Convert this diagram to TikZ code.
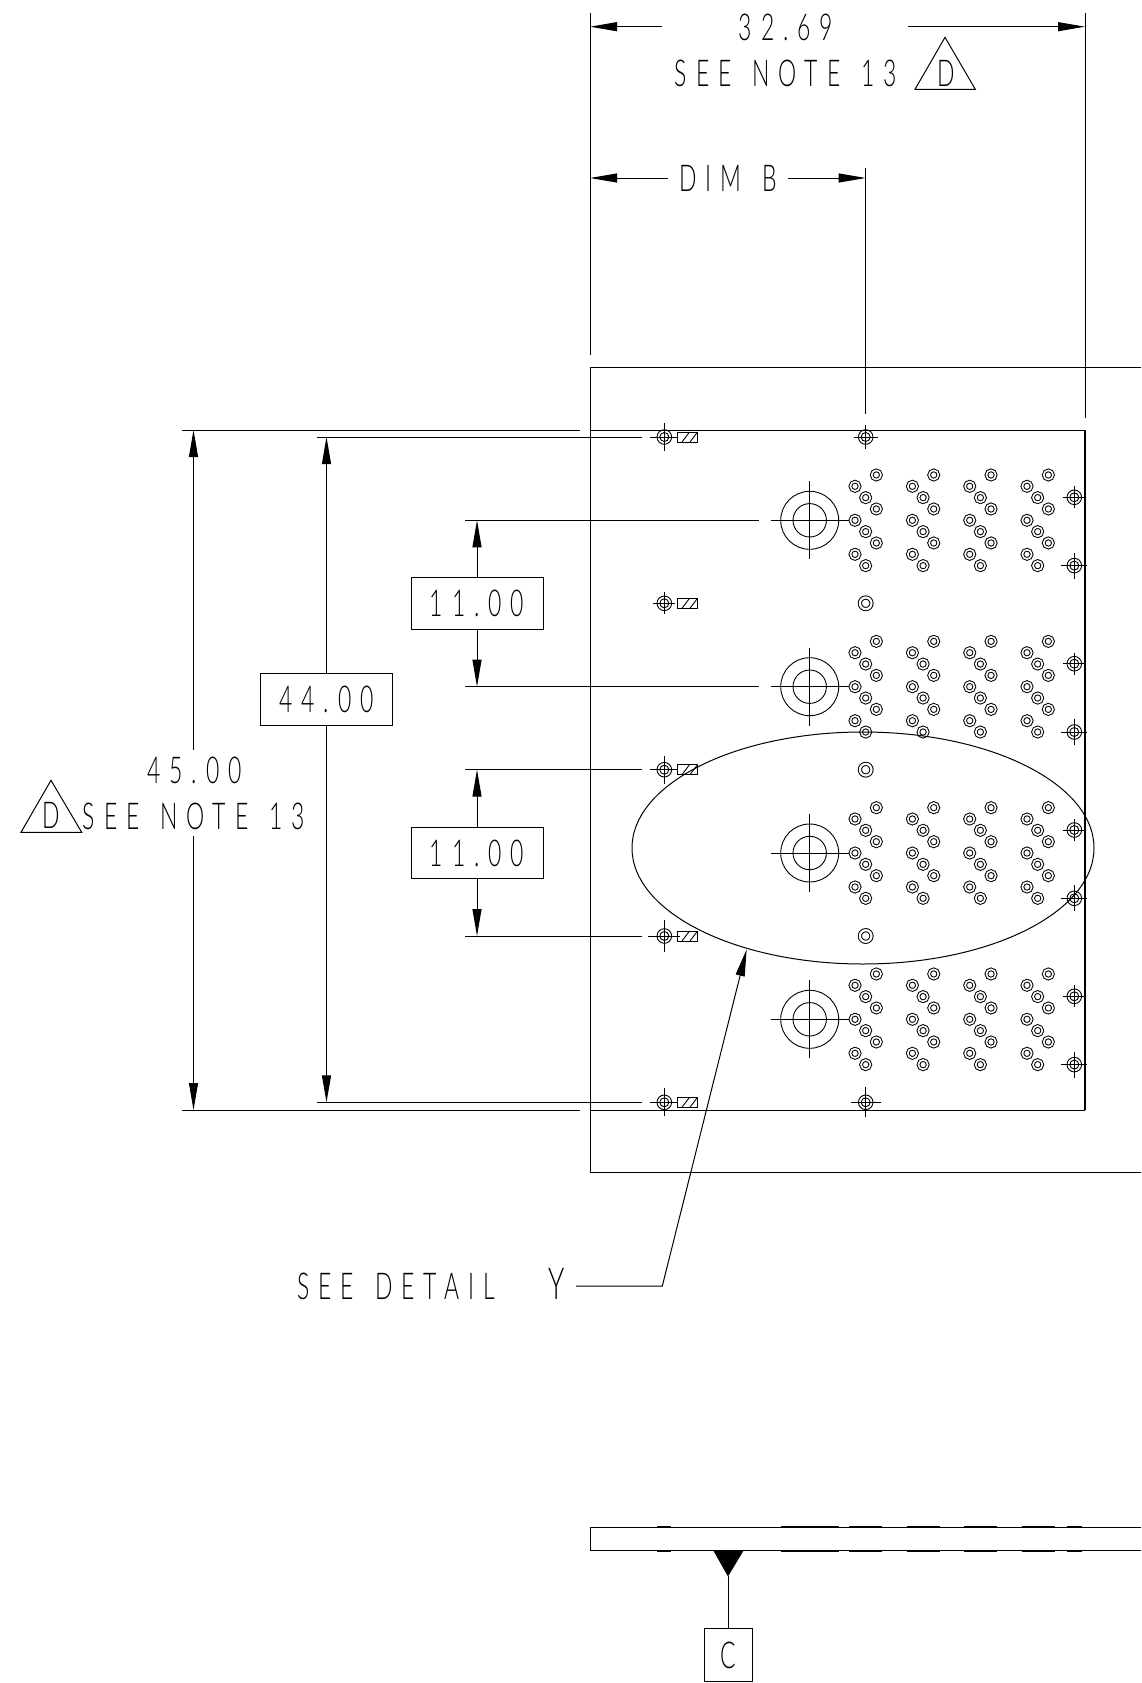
\documentclass[tikz,border=0pt]{standalone}
\usepackage{fontspec}
\setmainfont{Lato}[UprightFont=* Light,FakeStretch=0.62,LetterSpace=24,WordSpace=1.4]
\usetikzlibrary{arrows.meta,shapes.geometric}
\tikzset{dim text/.style={font=\fontsize{37}{40}\selectfont,inner sep=0pt},
	dim box/.style={dim text,draw,minimum width=132pt,minimum height=51.5pt},
	dim arrow/.style={-{Triangle[length=27pt,width=9pt]}},
	pin hole/.style={circle,draw,double,line width=1pt,double distance=1.6pt,minimum size=9.3pt,inner sep=0pt},
	via hole/.style={circle,draw,double,line width=1pt,double distance=2.2pt,minimum size=11.6pt,inner sep=0pt},
	pics/target/.style={code={
		\draw[line width=.9pt] (0,0) circle (7.3) (0,0) circle (4.5);
		\draw[line width=.9pt] (-#1,0) -- (#1,0) (0,-#1) -- (0,#1);}},
	pics/bore/.style={code={
		\draw[line width=.9pt] (0,0) circle (29) (0,0) circle (16.7);
		\draw[line width=.9pt] (-39,0) -- (40,0) (0,-39) -- (0,39);}},
	pics/slot/.style={code={
		\draw[line width=.9pt] (-10.2,-5) rectangle (10.2,5);
		\draw[line width=.9pt] (-5.5,5) -- (2,-5) (2.5,5) -- (10,-5);}},
}

\begin{document}
\begin{tikzpicture}[x=1pt,y=-1pt,line width=1pt]
	\useasboundingbox (0,0) rectangle (1141,1683);
	\draw (1141,367) -- (590,367) -- (590,1172) -- (1141,1172);
	\draw (590,430) -- (1085,430);
	\draw (590,1110) -- (1085,1110);
	\draw[line width=1.3pt] (1085,430) -- (1085,1110);

	\node[dim text] (width top) at (786,27.5){32.69};
	\node[dim text] (width note) at (786,73.5){SEE NOTE 13};
	\node[dim text] (flag top) at (946,73){D};
	\draw (915,89.3) -- (975.3,89.3) -- (945,37.3) -- cycle;
	\node[dim text] (dim b) at (728,178){DIM B};
	\coordinate (wa) at (662,26.7);
	\coordinate (wb) at (590,26.7);
	\coordinate (wc) at (908,26.7);
	\coordinate (wd) at (1085,26.7);
	\coordinate (ba) at (668,178);
	\coordinate (bb) at (590,178);
	\coordinate (bc) at (788,178);
	\coordinate (bd) at (865.7,178);
	\draw[dim arrow] (wa) -- (wb);
	\draw[dim arrow] (wc) -- (wd);
	\draw[dim arrow] (ba) -- (bb);
	\draw[dim arrow] (bc) -- (bd);
	\draw (590,13) -- (590,355);
	\draw (1085,13) -- (1085,418);
	\draw (865.7,168) -- (865.7,414);

	\node[dim text] (height top) at (194.5,770){45.00};
	\node[dim text] (height note) at (194,816){SEE NOTE 13};
	\node[dim text] (flag left) at (51.7,815){D};
	\draw (21,832.3) -- (81.7,832.3) -- (51,780.3) -- cycle;
	\coordinate (ha) at (193.5,750);
	\coordinate (hb) at (193.5,430);
	\coordinate (hc) at (193.5,836);
	\coordinate (hd) at (193.5,1110);
	\draw[dim arrow] (ha) -- (hb);
	\draw[dim arrow] (hc) -- (hd);
	\draw (182,430) -- (580,430);
	\draw (182,1110) -- (580,1110);

	\node[dim box] (box 44) at (326.5,699.5){44.00};
	\coordinate (ga) at (326.5,437);
	\coordinate (gb) at (326.5,1102.3);
	\draw[dim arrow] (box 44) -- (ga);
	\draw[dim arrow] (box 44) -- (gb);
	\draw (317,437) -- (642,437);
	\draw (317,1102.3) -- (642,1102.3);

	\node[dim box] (box 11a) at (477,603.7){11.00};
	\node[dim box] (box 11b) at (477,853.2){11.00};
	\coordinate (aa) at (477,520.3);
	\coordinate (ab) at (477,686.7);
	\coordinate (ac) at (477,769.7);
	\coordinate (ad) at (477,936);
	\draw[dim arrow] (box 11a) -- (aa);
	\draw[dim arrow] (box 11a) -- (ab);
	\draw[dim arrow] (box 11b) -- (ac);
	\draw[dim arrow] (box 11b) -- (ad);
	\draw (465,520.3) -- (759,520.3);
	\draw (465,686.7) -- (759,686.7);
	\draw (465,769.7) -- (642,769.7);
	\draw (465,936) -- (642,936);

	\foreach \py/\ps in {437/14,603.3/11,769.7/14,936/16,1102.3/14}{
		\pic at (664.3,\py) {target=\ps};
		\pic at (687.5,\py) {slot};
	}
	\pic at (865.7,437) {target=12};
	\pic at (865.7,1102.3) {target=15};
	\foreach \vy in {603.3,769.7,936}
		\node[via hole] (via \vy) at (865.7,\vy){};

	\foreach \gy in {520.3,686.7,853,1019.3}{
		\pic at (809.7,\gy) {bore};
		\pic at (1074.3,\gy-23) {target=11};
		\pic at (1074.3,\gy+45.3) {target=13};
		\foreach \cx in {855,912.4,969.7,1027}
			\foreach \dx/\dy in {21.33/-45.33,0/-34,10.67/-22.67,21.33/-11.33,0/0,10.67/11.33,21.33/22.67,0/34,10.67/45.33}
				\node[pin hole] at (\cx+\dx,\gy+\dy){};
	}

	\node[draw,ellipse,minimum width=462pt,minimum height=232pt,inner sep=0pt] (detail y) at (863,848){};
	\node[dim text,anchor=west] (see detail) at (297,1284){SEE DETAIL\hspace{54pt}\fontsize{44}{44}\selectfont Y};
	\coordinate (la) at (576,1286);
	\coordinate (lb) at (662.3,1286);
	\coordinate (lc) at (746.7,949.3);
	\draw[dim arrow] (la) -- (lb) -- (lc);

	\draw[line width=1.2pt] (1141,1527.7) -- (590.5,1527.7) -- (590.5,1550.5) -- (1141,1550.5);
	\foreach \sa/\sb in {657/671,781/838.7,849/881.6,906.7/939.6,963.9/997.2,1021.5/1054.8,1067.3/1081.6}{
		\draw[line width=1.5pt] (\sa,1526.5) -- (\sb,1526.5);
		\draw[line width=1.5pt] (\sa,1551.7) -- (\sb,1551.7);
	}
	\fill (713,1550) -- (743.9,1550) -- (728,1576.5) -- cycle;
	\coordinate (tri tip) at (728,1576);
	\node[dim text,draw,minimum width=48pt,minimum height=53pt] (datum c) at (728.5,1655.2){C};
	\draw (tri tip) -- (tri tip |- datum c.north);
\end{tikzpicture}
\end{document}
